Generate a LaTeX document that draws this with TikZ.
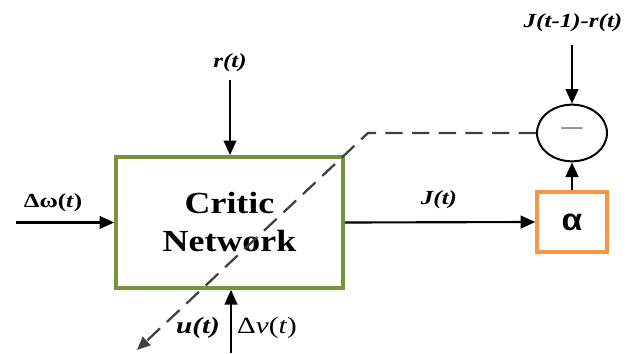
\documentclass[tikz,border=0pt]{standalone}
\usepackage{fontspec}
\setmainfont{Liberation Serif}
\newfontfamily\lblfont[FakeStretch=1.25]{Liberation Serif}
\newfontfamily\critfont[FakeStretch=1.17]{Liberation Serif}
\newfontfamily\alphafont[FakeStretch=1.1]{Liberation Sans}
\usetikzlibrary{arrows.meta,shapes.geometric}
\definecolor{critgreen}{HTML}{77933C}
\definecolor{alphaorange}{HTML}{F79646}
\definecolor{dashgray}{HTML}{404040}
\tikzset{
  arr/.style={line width=1.6pt,-{Triangle[length=11pt,width=9.5pt]}},
  dsh/.style={line width=1.7pt,dashgray,dash pattern=on 13pt off 7pt,-{Triangle[length=10pt,width=8.5pt]}},
  critic/.style={draw=critgreen,line width=3pt,minimum width=170pt,minimum height=98pt,
    align=center,font=\critfont\bfseries\fontsize{23}{28.5}\selectfont},
  abox/.style={draw=alphaorange,line width=2.5pt,minimum width=52.5pt,minimum height=45pt,
    font=\alphafont\bfseries\fontsize{23}{26}\selectfont},
  sumnode/.style={draw,ellipse,line width=1.5pt,minimum width=52.5pt,minimum height=42.5pt,inner sep=0pt},
  lbl/.style={font=\lblfont\bfseries\itshape\fontsize{15}{17}\selectfont,inner sep=0pt},
}
\begin{document}
\begin{tikzpicture}[x=0.75pt,y=-0.75pt]
\useasboundingbox (0,0) rectangle (641,353);

% blocks
\node[critic] (cn) at (229.5,222.5) {Critic\\Network};
\node[abox] (al) at (572,222) {α};
\node[sumnode] (sub) at (572,133) {};
\node[font=\fontsize{16}{16}\selectfont,text=black!75,inner sep=0pt] (minus) at (572,131) {—};

% free ends of the connectors
\coordinate (win) at (16,222.5);
\coordinate (rin) at (230,80);
\coordinate (vin) at (231,353);
\coordinate (jin) at (572,45);
\coordinate (bend) at (368,133);
\coordinate (dend) at (137,350);

% connectors
\draw[arr] (win) -- (win -| cn.west);
\draw[arr] (rin) -- (rin |- cn.north);
\draw[arr] (vin) -- (vin |- cn.south);
\draw[arr] (cn.east) -- (al.west);
\draw[arr] (al.north) -- (sub.south);
\draw[arr] (jin) -- (sub.north);
\draw[dsh] (sub.west) -- (bend) -- (dend);

% labels
\node[lbl] (lw) at (53,203) {\upshape Δω(\textit{t})};
\node[lbl] (lr) at (230,63) {r(t)};
\node[lbl] (lj) at (439,200) {J(t)};
\node[lbl] (ljr) at (573,23) {J(t-1)-r(t)};
\node[lbl,font=\lblfont\bfseries\itshape\fontsize{17.5}{19}\selectfont] (lu) at (198,328) {u(t)};
\node[lbl,font=\lblfont\fontsize{17.5}{19}\selectfont] (lv) at (267,328) {Δ\textit{v}(\textit{t})};
\end{tikzpicture}
\end{document}
